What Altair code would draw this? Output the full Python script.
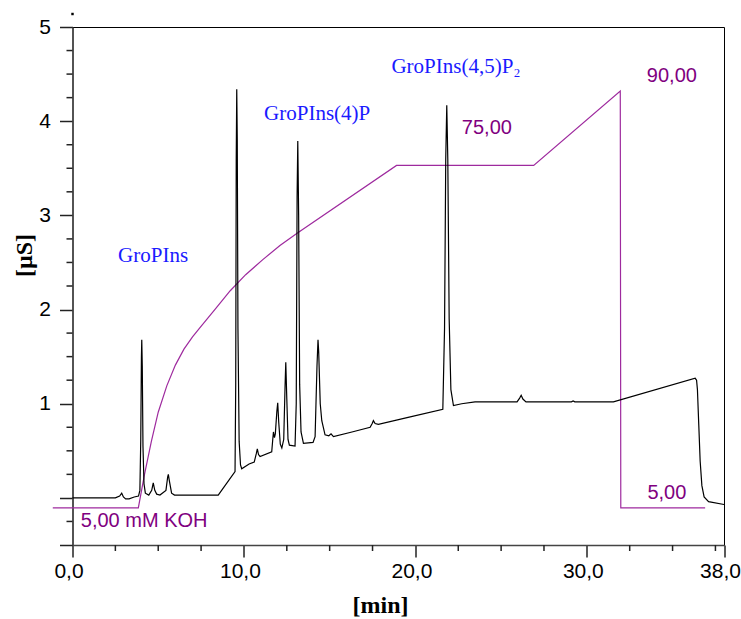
import altair as alt
import pandas as pd

# Chromatogram (conductivity, µS) vs time (min)
time_min = [0.0, 2.5, 2.75, 2.87, 2.97, 3.1, 3.3, 3.6, 3.85, 3.93, 3.98, 4.02, 4.04, 4.07, 4.11, 4.17, 4.25,
            4.45, 4.62, 4.71, 4.8, 4.91, 5.1, 5.45, 5.55, 5.59, 5.65, 5.78, 5.95, 8.5, 9.48, 9.52, 9.55, 9.58,
            9.61, 9.65, 9.72, 9.8, 9.87, 10.3, 10.6, 10.72, 10.78, 10.85, 10.94, 11.62, 11.68, 11.72, 11.78,
            11.83, 11.92, 11.97, 12.03, 12.12, 12.21, 12.32, 12.4, 12.44, 12.5, 12.57, 12.65, 12.98, 13.05,
            13.1, 13.14, 13.19, 13.25, 13.33, 13.47, 14.03, 14.15, 14.26, 14.32, 14.36, 14.45, 14.54, 14.73,
            14.95, 15.08, 15.22, 16.3, 17.36, 17.48, 17.55, 17.65, 17.84, 19.7, 21.6, 21.7, 21.77, 21.83,
            21.89, 21.97, 22.07, 22.22, 22.7, 23.48, 25.93, 26.08, 26.17, 26.27, 26.45, 29.1, 29.2, 29.3,
            31.55, 36.32, 36.4, 36.45, 36.53, 36.61, 36.71, 36.84, 37.1, 38.0]
signal_uS = [0.00, 0.00, 0.02, 0.05, 0.01, -0.01, -0.01, 0.01, 0.02, 0.08, 0.60, 1.50, 1.68, 1.40, 0.55, 0.15,
             0.05, 0.03, 0.08, 0.16, 0.08, 0.04, 0.03, 0.08, 0.22, 0.25, 0.18, 0.05, 0.03, 0.03, 0.28, 1.20,
             3.60, 4.34, 3.80, 1.80, 0.60, 0.35, 0.31, 0.36, 0.38, 0.47, 0.52, 0.46, 0.44, 0.49, 0.62, 0.70,
             0.64, 0.68, 0.92, 1.01, 0.80, 0.57, 0.53, 0.62, 1.20, 1.44, 1.05, 0.62, 0.56, 0.55, 1.00, 3.20,
             3.79, 3.00, 1.20, 0.70, 0.58, 0.59, 0.65, 1.40, 1.68, 1.55, 1.00, 0.82, 0.67, 0.66, 0.68, 0.65,
             0.70, 0.75, 0.79, 0.82, 0.79, 0.78, 0.86, 0.94, 1.80, 3.60, 4.17, 3.60, 1.90, 1.15, 0.98, 1.00,
             1.02, 1.02, 1.06, 1.09, 1.05, 1.02, 1.02, 1.03, 1.02, 1.02, 1.27, 1.25, 1.15, 0.77, 0.39, 0.13,
             0.01, -0.04, -0.07]

# KOH gradient trace (drawn in the same axis units)
grad_time = [-1.15, 3.84, 4.2, 4.6, 5.0, 5.5, 6.0, 6.5, 7.0, 7.4, 8.3, 9.2, 10.1, 11.1, 12.1, 13.1, 18.9,
             26.9, 31.95, 31.98, 36.9]
grad_level = [-0.106, -0.106, 0.25, 0.60, 0.91, 1.19, 1.41, 1.58, 1.71, 1.80, 2.00, 2.20, 2.37, 2.53, 2.68,
              2.81, 3.53, 3.53, 4.32, -0.106, -0.106]

# Peak labels
peak_names = ["GroPIns", "GroPIns(4)P", "GroPIns(4,5)P\u2082"]
peak_t = [4.7, 14.27, 22.37]
peak_v = [2.57, 4.08, 4.58]

# Concentration labels
conc_names = ["5,00 mM KOH", "75,00", "90,00", "5,00"]
conc_t = [4.18, 24.17, 34.96, 34.67]
conc_v = [-0.25, 3.93, 4.48, 0.05]

# Axis ticks
x_major = [0, 10, 20, 30, 38]
x_minor = [2.5, 5, 7.5, 12.5, 15, 17.5, 22.5, 25, 27.5, 32.5, 35, 37.5]
y_major = [-0.5, 0, 1, 2, 3, 4, 5]
y_minor = [-0.25, 0.25, 0.5, 0.75, 1.25, 1.5, 1.75, 2.25, 2.5, 2.75, 3.25, 3.5, 3.75, 4.25, 4.5, 4.75]

chrom_df = pd.DataFrame({"t": time_min, "v": signal_uS, "i": range(len(time_min))})
grad_df = pd.DataFrame({"t": grad_time, "v": grad_level, "i": range(len(grad_time))})
peak_df = pd.DataFrame({"t": peak_t, "v": peak_v, "label": peak_names})
conc_df = pd.DataFrame({"t": conc_t, "v": conc_v, "label": conc_names})
xminor_df = pd.DataFrame({"t": x_minor})
yminor_df = pd.DataFrame({"v": y_minor})

X = alt.X(
    "t:Q",
    scale=alt.Scale(domain=[0, 38], nice=False, zero=False),
    axis=alt.Axis(
        values=x_major,
        labelExpr="replace(format(datum.value, '.1f'), '.', ',')",
        ticks=True,
        tickSize=12,
        tickColor="#222222",
        tickWidth=1.5,
        labelPadding=3,
        labelOffset=-4,
        title="[min]",
        titleX=307.5,
        titleY=60,
        titleAlign="center",
        titleBaseline="middle",
    ),
)
Y = alt.Y(
    "v:Q",
    scale=alt.Scale(domain=[-0.5, 5], nice=False, zero=False),
    axis=alt.Axis(
        values=y_major,
        labelExpr="datum.value >= 1 ? format(datum.value, 'd') : ''",
        ticks=True,
        tickSize=13,
        tickColor="#222222",
        tickWidth=1.5,
        labelPadding=9,
        title="[µS]",
        titleX=-48.5,
        titleY=228,
        titleAngle=270,
        titleAlign="center",
        titleBaseline="middle",
    ),
)

grad = alt.Chart(grad_df).mark_line(color="#9e2a9e", strokeWidth=1.2).encode(x=X, y=Y, order="i:Q")
chrom = alt.Chart(chrom_df).mark_line(color="black", strokeWidth=1.2).encode(x=X, y=Y, order="i:Q")
peak_text = alt.Chart(peak_df).mark_text(
    font="Liberation Serif", fontSize=21, color="#1a1aff", align="center", baseline="middle"
).encode(x=X, y=Y, text="label:N")
conc_text = alt.Chart(conc_df).mark_text(
    font="Liberation Sans", fontSize=20, color="#800080", align="center", baseline="middle"
).encode(x=X, y=Y, text="label:N")
x_minor_ticks = alt.Chart(xminor_df).mark_rule(color="#222222", strokeWidth=1.5).encode(
    x=X, y=alt.value(518), y2=alt.value(524)
)
y_minor_ticks = alt.Chart(yminor_df).mark_rule(color="#222222", strokeWidth=1.5).encode(
    y=Y, x=alt.value(-6), x2=alt.value(0)
)
dot = alt.Chart(pd.DataFrame({"a": [0]})).mark_square(size=6, color="black", opacity=1).encode(
    x=alt.value(0), y=alt.value(-13)
)

chart = alt.layer(grad, chrom, peak_text, conc_text, x_minor_ticks, y_minor_ticks, dot).properties(
    width=651.5,
    height=518,
    background="white",
    autosize=alt.AutoSizeParams(type="none"),
    padding={"left": 72.5, "top": 27, "right": 17, "bottom": 74},
).configure_view(
    stroke="black", strokeWidth=1
).configure_axis(
    grid=False,
    domainColor="#444444",
    domainWidth=1.5,
    labelFont="Liberation Sans",
    labelFontSize=21,
    labelColor="black",
    labelOverlap=False,
    labelBound=False,
    labelFlush=False,
    titleFont="Liberation Serif",
    titleFontSize=24,
    titleFontWeight="bold",
    titleColor="black",
)

chart.save("out.html", embed_options={"renderer": "svg", "actions": False})
